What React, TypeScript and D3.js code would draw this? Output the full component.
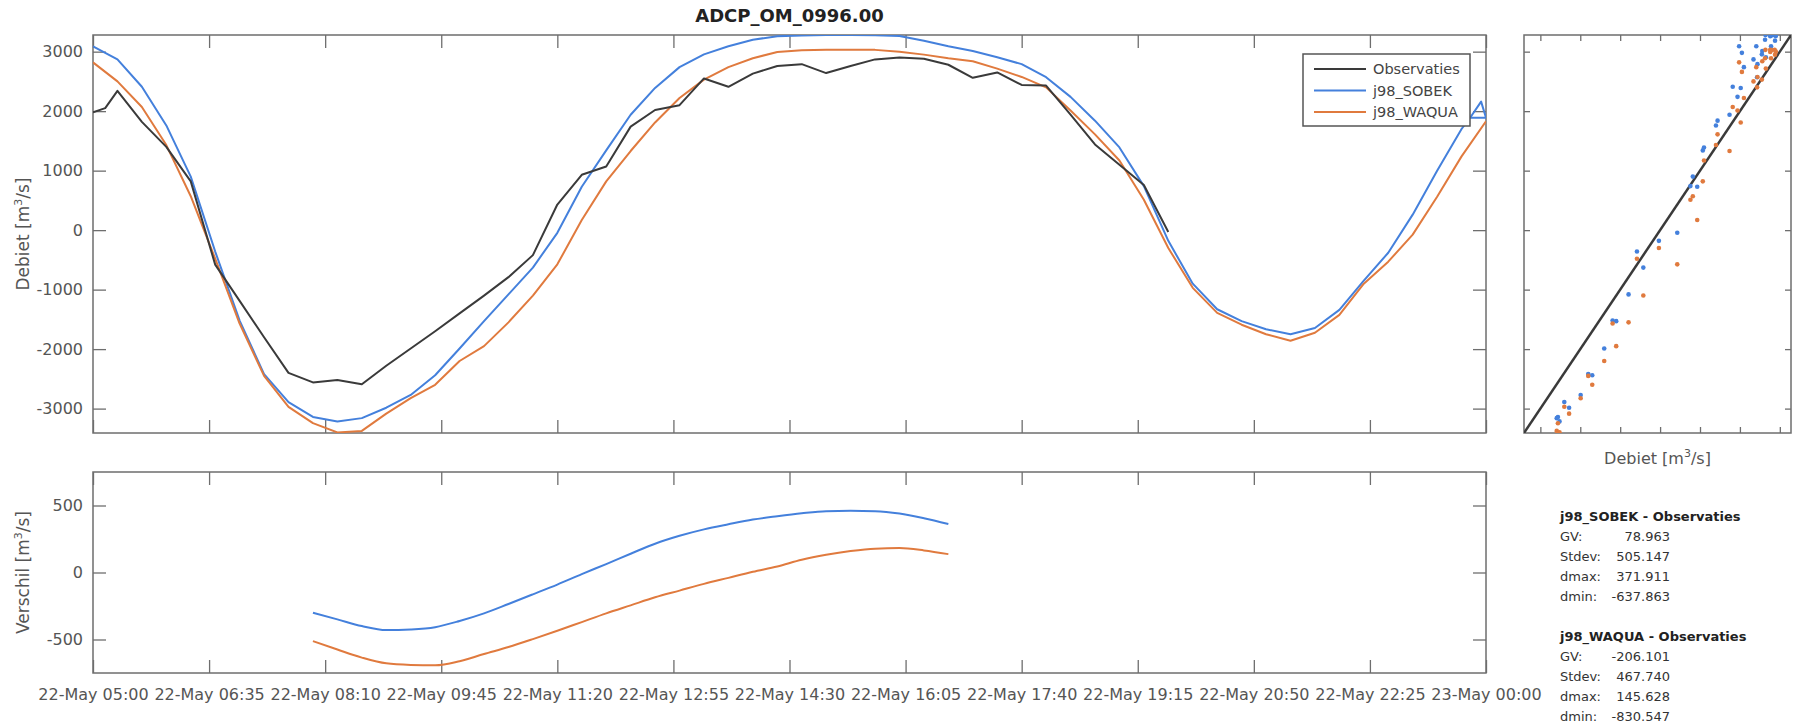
import React, { useEffect, useRef } from 'react';
import * as d3 from 'd3';

type Pt = [string, number];

const title = 'ADCP_OM_0996.00';

// observed discharge (ADCP), 22-May
const observaties: Pt[] = [
    ['05:00', 1980], ['05:10', 2050], ['05:20', 2340], ['05:40', 1820], ['06:00', 1400],
    ['06:20', 820], ['06:40', -580], ['07:00', -1190], ['07:20', -1800], ['07:40', -2400],
    ['08:00', -2560], ['08:20', -2520], ['08:40', -2590], ['09:00', -2280], ['09:20', -1990],
    ['09:40', -1700], ['10:00', -1400], ['10:20', -1100], ['10:40', -790], ['11:00', -420],
    ['11:20', 430], ['11:40', 930], ['12:00', 1070], ['12:20', 1740], ['12:40', 2020],
    ['13:00', 2100], ['13:20', 2550], ['13:40', 2410], ['14:00', 2630], ['14:20', 2760],
    ['14:40', 2790], ['15:00', 2640], ['15:20', 2760], ['15:40', 2870], ['16:00', 2900],
    ['16:20', 2880], ['16:40', 2780], ['17:00', 2560], ['17:20', 2650], ['17:40', 2440],
    ['18:00', 2430], ['18:20', 1940], ['18:40', 1440], ['19:00', 1100], ['19:20', 760],
    ['19:40', -30]
];

const sobek: Pt[] = [
    ['05:00', 3090], ['05:20', 2870], ['05:40', 2410], ['06:00', 1760], ['06:20', 900],
    ['06:40', -360], ['07:00', -1520], ['07:20', -2420], ['07:40', -2890], ['08:00', -3140],
    ['08:20', -3215], ['08:40', -3160], ['09:00', -2985], ['09:20', -2770], ['09:40', -2440],
    ['10:00', -1990], ['10:20', -1530], ['10:40', -1080], ['11:00', -630], ['11:20', -45],
    ['11:40', 730], ['12:00', 1340], ['12:20', 1940], ['12:40', 2390], ['13:00', 2740],
    ['13:20', 2955], ['13:40', 3090], ['14:00', 3200], ['14:20', 3260], ['14:40', 3272],
    ['15:00', 3278], ['15:20', 3280], ['15:40', 3276], ['16:00', 3262], ['16:20', 3185],
    ['16:40', 3090], ['17:00', 3010], ['17:20', 2905], ['17:40', 2790], ['18:00', 2570],
    ['18:20', 2240], ['18:40', 1840], ['19:00', 1390], ['19:20', 740], ['19:40', -180],
    ['20:00', -900], ['20:20', -1330], ['20:40', -1530], ['21:00', -1665], ['21:20', -1750],
    ['21:40', -1645], ['22:00', -1340], ['22:20', -850], ['22:40', -380], ['23:00', 260],
    ['23:20', 1000], ['23:40', 1700], ['23:47', 1890], ['23:56', 2160], ['24:00', 1890],
    ['23:47', 1890]
];

const waqua: Pt[] = [
    ['05:00', 2820], ['05:20', 2500], ['05:40', 2070], ['06:00', 1430], ['06:20', 570],
    ['06:40', -480], ['07:00', -1570], ['07:20', -2450], ['07:40', -2970], ['08:00', -3245],
    ['08:20', -3400], ['08:40', -3375], ['09:00', -3085], ['09:20', -2825], ['09:40', -2600],
    ['10:00', -2200], ['10:20', -1950], ['10:40', -1550], ['11:00', -1100], ['11:20', -575],
    ['11:40', 170], ['12:00', 820], ['12:20', 1330], ['12:40', 1810], ['13:00', 2220],
    ['13:20', 2530], ['13:40', 2740], ['14:00', 2890], ['14:20', 2995], ['14:40', 3025],
    ['15:00', 3030], ['15:20', 3032], ['15:40', 3030], ['16:00', 3000], ['16:20', 2950],
    ['16:40', 2890], ['17:00', 2840], ['17:20', 2715], ['17:40', 2575], ['18:00', 2400],
    ['18:20', 2010], ['18:40', 1610], ['19:00', 1170], ['19:20', 510], ['19:40', -300],
    ['20:00', -970], ['20:20', -1390], ['20:40', -1590], ['21:00', -1750], ['21:20', -1860],
    ['21:40', -1725], ['22:00', -1425], ['22:20', -900], ['22:40', -530], ['23:00', -75],
    ['23:20', 560], ['23:40', 1240], ['24:00', 1830]
];

// model - observation
const sobekVerschil: Pt[] = [
    ['08:00', -300], ['08:20', -350], ['08:40', -400], ['09:00', -430], ['09:20', -425],
    ['09:40', -408], ['10:00', -362], ['10:20', -305], ['10:40', -235], ['11:00', -163],
    ['11:20', -90], ['11:40', -12], ['12:00', 63], ['12:20', 140], ['12:40', 215],
    ['13:00', 274], ['13:20', 322], ['13:40', 360], ['14:00', 395], ['14:20', 420],
    ['14:40', 442], ['15:00', 458], ['15:20', 461], ['15:40', 458], ['16:00', 440],
    ['16:20', 405], ['16:40', 362]
];

const waquaVerschil: Pt[] = [
    ['08:00', -512], ['08:20', -575], ['08:40', -635], ['09:00', -678], ['09:20', -690],
    ['09:40', -693], ['10:00', -662], ['10:20', -608], ['10:40', -556], ['11:00', -497],
    ['11:20', -435], ['11:40', -370], ['12:00', -305], ['12:20', -245], ['12:40', -185],
    ['13:00', -135], ['13:20', -85], ['13:40', -40], ['14:00', 5], ['14:20', 45],
    ['14:40', 95], ['15:00', 132], ['15:20', 160], ['15:40', 178], ['16:00', 182],
    ['16:20', 165], ['16:40', 137]
];

const xTickTimes = ['05:00', '06:35', '08:10', '09:45', '11:20', '12:55', '14:30', '16:05', '17:40', '19:15', '20:50', '22:25', '24:00'];
const debietTicks = [-3000, -2000, -1000, 0, 1000, 2000, 3000];
const verschilTicks = [-500, 0, 500];
const debietDomain = [-3410, 3280];
const verschilDomain = [-750, 750];

const legendNames = ['Observaties', 'j98_SOBEK', 'j98_WAQUA'];
const statLabels = ['GV:', 'Stdev:', 'dmax:', 'dmin:'];
const sobekStats = ['78.963', '505.147', '371.911', '-637.863'];
const waquaStats = ['-206.101', '467.740', '145.628', '-830.547'];

const OBS = '#3a3a3a';
const BLUE = '#4480dc';
const ORANGE = '#e07a3e';
const AXIS = '#6e6e6e';
const TXT = '#555';
const FONT = '"DejaVu Sans", sans-serif';

const parse = (s: string) => {
    const [h, m] = s.split(':').map(Number);
    return new Date(2000, 4, 22, h, m);
};

// increasing-time prefix of a series, for interpolating at observation times
const monotone = (s: Pt[]) => {
    const out: Pt[] = [];
    for (const d of s) {
        if (!out.length || +parse(d[0]) > +parse(out[out.length - 1][0])) out.push(d);
        else break;
    }
    return out;
};

export default function App() {
    const svgRef = useRef<SVGSVGElement>(null);

    useEffect(() => {
        const svg = d3.select(svgRef.current);
        svg.selectAll('*').remove();
        svg.style('font-family', FONT);

        const top = { l: 93, r: 1486, t: 35, b: 433 };
        const bot = { l: 93, r: 1486, t: 472, b: 673 };
        const sc = { l: 1524, r: 1791, t: 35, b: 433 };

        const x = d3.scaleTime().domain([parse('05:00'), parse('24:00')]).range([top.l, top.r]);
        const yTop = d3.scaleLinear().domain(debietDomain).range([top.b, top.t]);
        const yBot = d3.scaleLinear().domain(verschilDomain).range([bot.b, bot.t]);
        const xSc = d3.scaleLinear().domain(debietDomain).range([sc.l, sc.r]);
        const ySc = d3.scaleLinear().domain(debietDomain).range([sc.b, sc.t]);
        const xTicks = xTickTimes.map(parse);
        const fmt = d3.timeFormat('%d-%b %H:%M');

        const defs = svg.append('defs');
        const clip = (id: string, b: any) =>
            defs.append('clipPath').attr('id', id).append('rect')
                .attr('x', b.l).attr('y', b.t).attr('width', b.r - b.l).attr('height', b.b - b.t);
        clip('cTop', top);
        clip('cBot', bot);
        clip('cSc', sc);

        // inward ticks on all four sides + box
        const frame = (b: any, xs: any, ys: any, xv: any[], yv: number[], len: number, xLabels: boolean, yLabels: boolean) => {
            const g = svg.append('g');
            g.append('g').attr('transform', `translate(0,${b.b})`)
                .call(d3.axisBottom(xs).tickValues(xv).tickSize(-len).tickSizeOuter(0).tickPadding(16)
                    .tickFormat(xLabels ? (d: any) => fmt(d) : () => ''));
            g.append('g').attr('transform', `translate(0,${b.t})`)
                .call(d3.axisTop(xs).tickValues(xv).tickSize(-len).tickSizeOuter(0).tickFormat(() => ''));
            g.append('g').attr('transform', `translate(${b.l},0)`)
                .call(d3.axisLeft(ys).tickValues(yv).tickSize(-len).tickSizeOuter(0).tickPadding(10)
                    .tickFormat(yLabels ? (d: any) => String(d) : () => ''));
            g.append('g').attr('transform', `translate(${b.r},0)`)
                .call(d3.axisRight(ys).tickValues(yv).tickSize(-len).tickSizeOuter(0).tickFormat(() => ''));
            g.selectAll('.domain').remove();
            g.selectAll('.tick line').attr('stroke', AXIS).attr('stroke-width', 1.3);
            g.selectAll('.tick text').attr('fill', TXT).attr('font-size', 16).attr('font-family', FONT);
            g.append('rect').attr('x', b.l).attr('y', b.t).attr('width', b.r - b.l).attr('height', b.b - b.t)
                .attr('fill', 'none').attr('stroke', AXIS).attr('stroke-width', 1.5);
        };

        const unitLabel = (sel: any, name: string) => {
            sel.append('tspan').text(`${name} [m`);
            sel.append('tspan').attr('dy', -7).attr('font-size', 11).text('3');
            sel.append('tspan').attr('dy', 7).text('/s]');
        };

        const line = d3.line<Pt>().x((d) => x(parse(d[0]))).y((d) => yTop(d[1]));
        const diffLine = d3.line<Pt>().x((d) => x(parse(d[0]))).y((d) => yBot(d[1])).curve(d3.curveMonotoneX);

        // title
        svg.append('text').attr('x', (top.l + top.r) / 2).attr('y', 22).attr('text-anchor', 'middle')
            .attr('font-weight', 'bold').attr('font-size', 18).attr('fill', '#222').text(title);

        // top panel
        frame(top, x, yTop, xTicks, debietTicks, 13, false, true);
        const gTop = svg.append('g').attr('clip-path', 'url(#cTop)');
        [[sobek, BLUE], [waqua, ORANGE], [observaties, OBS]].forEach(([data, col]: any) => {
            gTop.append('path').datum(data).attr('d', line).attr('fill', 'none')
                .attr('stroke', col).attr('stroke-width', 2).attr('stroke-linejoin', 'round');
        });
        unitLabel(svg.append('text').attr('transform', `translate(29,${(top.t + top.b) / 2}) rotate(-90)`)
            .attr('text-anchor', 'middle').attr('font-size', 17).attr('fill', TXT), 'Debiet');

        // legend
        const lg = svg.append('g');
        lg.append('rect').attr('x', 1303).attr('y', 54).attr('width', 167).attr('height', 72)
            .attr('fill', '#fff').attr('stroke', '#555').attr('stroke-width', 1.5);
        [OBS, BLUE, ORANGE].forEach((col, i) => {
            const yy = 69 + i * 21.5;
            lg.append('line').attr('x1', 1314).attr('x2', 1366).attr('y1', yy).attr('y2', yy)
                .attr('stroke', col).attr('stroke-width', 2);
            lg.append('text').attr('x', 1373).attr('y', yy).attr('dy', '0.35em').attr('font-size', 14.5)
                .attr('fill', '#444').text(legendNames[i]);
        });

        // bottom panel
        frame(bot, x, yBot, xTicks, verschilTicks, 13, true, true);
        const gBot = svg.append('g').attr('clip-path', 'url(#cBot)');
        [[sobekVerschil, BLUE], [waquaVerschil, ORANGE]].forEach(([data, col]: any) => {
            gBot.append('path').datum(data).attr('d', diffLine).attr('fill', 'none')
                .attr('stroke', col).attr('stroke-width', 2);
        });
        unitLabel(svg.append('text').attr('transform', `translate(29,${(bot.t + bot.b) / 2}) rotate(-90)`)
            .attr('text-anchor', 'middle').attr('font-size', 17).attr('fill', TXT), 'Verschil');

        // scatter: model vs observation at observation times
        frame(sc, xSc, ySc, debietTicks, debietTicks, 6, false, false);
        const gSc = svg.append('g').attr('clip-path', 'url(#cSc)');
        gSc.append('line').attr('x1', xSc(debietDomain[0])).attr('y1', ySc(debietDomain[0]))
            .attr('x2', xSc(debietDomain[1])).attr('y2', ySc(debietDomain[1]))
            .attr('stroke', OBS).attr('stroke-width', 2.5);
        [[sobek, BLUE], [waqua, ORANGE]].forEach(([model, col]: any) => {
            const m = monotone(model);
            const at = d3.scaleLinear().domain(m.map((d) => +parse(d[0]))).range(m.map((d) => d[1]));
            gSc.selectAll(null).data(observaties).enter().append('circle')
                .attr('cx', (d) => xSc(d[1])).attr('cy', (d) => ySc(at(+parse(d[0]))))
                .attr('r', 2.3).attr('fill', col);
        });
        unitLabel(svg.append('text').attr('x', (sc.l + sc.r) / 2).attr('y', 464).attr('text-anchor', 'middle')
            .attr('font-size', 16).attr('fill', TXT), 'Debiet');

        // statistics
        const stats = (name: string, vals: string[], y0: number) => {
            svg.append('text').attr('x', 1560).attr('y', y0).attr('font-size', 13).attr('font-weight', 'bold')
                .attr('fill', '#222').text(`${name} - Observaties`);
            statLabels.forEach((lab, i) => {
                svg.append('text').attr('x', 1560).attr('y', y0 + 20 * (i + 1)).attr('font-size', 13)
                    .attr('fill', '#333').text(lab);
                svg.append('text').attr('x', 1670).attr('y', y0 + 20 * (i + 1)).attr('font-size', 13)
                    .attr('text-anchor', 'end').attr('fill', '#333').text(vals[i]);
            });
        };
        stats(legendNames[1], sobekStats, 521);
        stats(legendNames[2], waquaStats, 641);
    }, []);

    return (
        <svg
            ref={svgRef}
            width={1808}
            height={725}
            style={{ position: 'absolute', left: 0, top: 0, background: '#fff' }}
        />
    );
}
